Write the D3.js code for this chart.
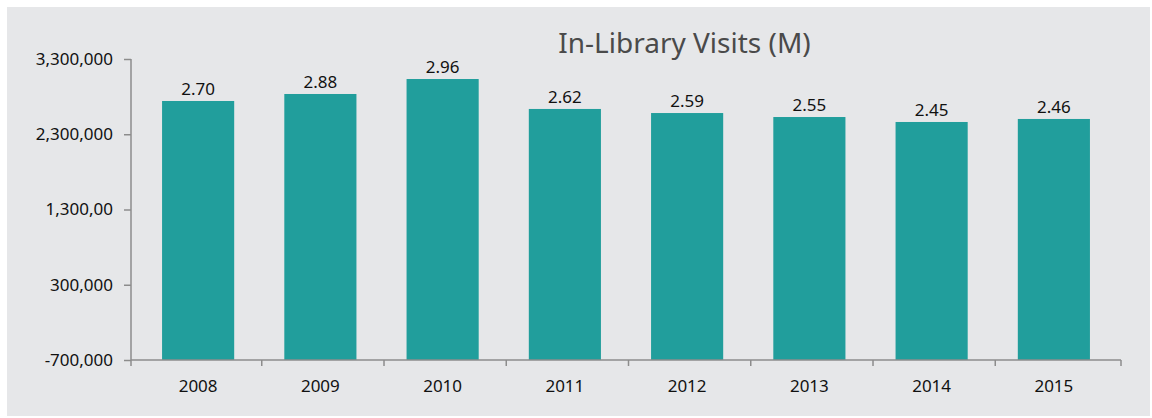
<!DOCTYPE html>
<html>
<head>
<meta charset="utf-8">
<script src="https://cdn.jsdelivr.net/npm/d3@7"></script>
<style>
  html, body { margin: 0; padding: 0; background: #ffffff; }
  svg { display: block; }
  text { font-family: "Noto Sans", "Open Sans", sans-serif; }
</style>
</head>
<body>
<svg id="chart" width="1152" height="418"></svg>
<script>
// ---- data ----
const years = ["2008", "2009", "2010", "2011", "2012", "2013", "2014", "2015"];
const visits = [2742000, 2835000, 3034000, 2636000, 2582000, 2529000, 2463000, 2503000];
const barLabels = ["2.70", "2.88", "2.96", "2.62", "2.59", "2.55", "2.45", "2.46"];
const yTickValues = [-700000, 300000, 1300000, 2300000, 3300000];
const yTickLabels = ["-700,000", "300,000", "1,300,00", "2,300,000", "3,300,000"];
const title = "In-Library Visits (M)";

// ---- layout ----
const W = 1152, H = 418;
const svg = d3.select("#chart");

svg.append("rect")
  .attr("x", 7).attr("y", 7)
  .attr("width", 1143).attr("height", 409)
  .attr("fill", "#e6e7e9");

const axisLeft = 131, axisRight = 1121;
const y = d3.scaleLinear().domain([-700000, 3300000]).range([360, 59]);
const x = d3.scaleBand().domain(years).range([137, 1115]).paddingInner(0.41).paddingOuter(0.205);

const axisColor = "#8c8c8c";

// bars
svg.append("g").selectAll("rect")
  .data(years)
  .join("rect")
  .attr("x", (d) => x(d))
  .attr("width", x.bandwidth())
  .attr("y", (d, i) => y(visits[i]))
  .attr("height", (d, i) => y(-700000) - y(visits[i]))
  .attr("fill", "#219e9c");

// bar value labels
svg.append("g").selectAll("text")
  .data(years)
  .join("text")
  .attr("x", (d) => x(d) + x.bandwidth() / 2)
  .attr("y", (d, i) => y(visits[i]) - 6)
  .attr("text-anchor", "middle")
  .attr("font-size", 17)
  .attr("fill", "#111")
  .text((d, i) => barLabels[i]);

// y axis
const yAxis = d3.axisLeft(y)
  .tickValues(yTickValues)
  .tickSize(7)
  .tickPadding(11)
  .tickFormat((d, i) => yTickLabels[i]);
const gy = svg.append("g").attr("transform", `translate(${axisLeft},0)`).call(yAxis);
gy.select(".domain").attr("stroke", axisColor).attr("stroke-width", 1.5).attr("d", `M0,${y(3300000)}V${y(-700000)}`);
gy.selectAll(".tick line").attr("stroke", axisColor).attr("stroke-width", 1.5);
gy.selectAll(".tick text")
  .attr("font-size", 17)
  .attr("fill", "#111")
  .attr("font-family", "'Noto Sans', 'Open Sans', sans-serif");

// x axis
const gx = svg.append("g");
gx.append("line")
  .attr("x1", axisLeft).attr("x2", axisRight)
  .attr("y1", y(-700000)).attr("y2", y(-700000))
  .attr("stroke", axisColor).attr("stroke-width", 1.5);
const gapOffset = x.step() * x.paddingInner() * 0.45;
const tickXs = [axisLeft].concat(years.slice(1).map((d) => x(d) - gapOffset)).concat([axisRight]);
gx.selectAll("line.tk")
  .data(tickXs)
  .join("line")
  .attr("class", "tk")
  .attr("x1", (d) => d).attr("x2", (d) => d)
  .attr("y1", y(-700000)).attr("y2", y(-700000) + 6)
  .attr("stroke", axisColor).attr("stroke-width", 1.5);
gx.selectAll("text")
  .data(years)
  .join("text")
  .attr("x", (d) => x(d) + x.bandwidth() / 2)
  .attr("y", 392)
  .attr("text-anchor", "middle")
  .attr("font-size", 17)
  .attr("fill", "#111")
  .text((d) => d);

// title
svg.append("text")
  .attr("x", 684.5)
  .attr("y", 53)
  .attr("text-anchor", "middle")
  .attr("font-size", 28)
  .attr("fill", "#4a4a4a")
  .text(title);
</script>
</body>
</html>
